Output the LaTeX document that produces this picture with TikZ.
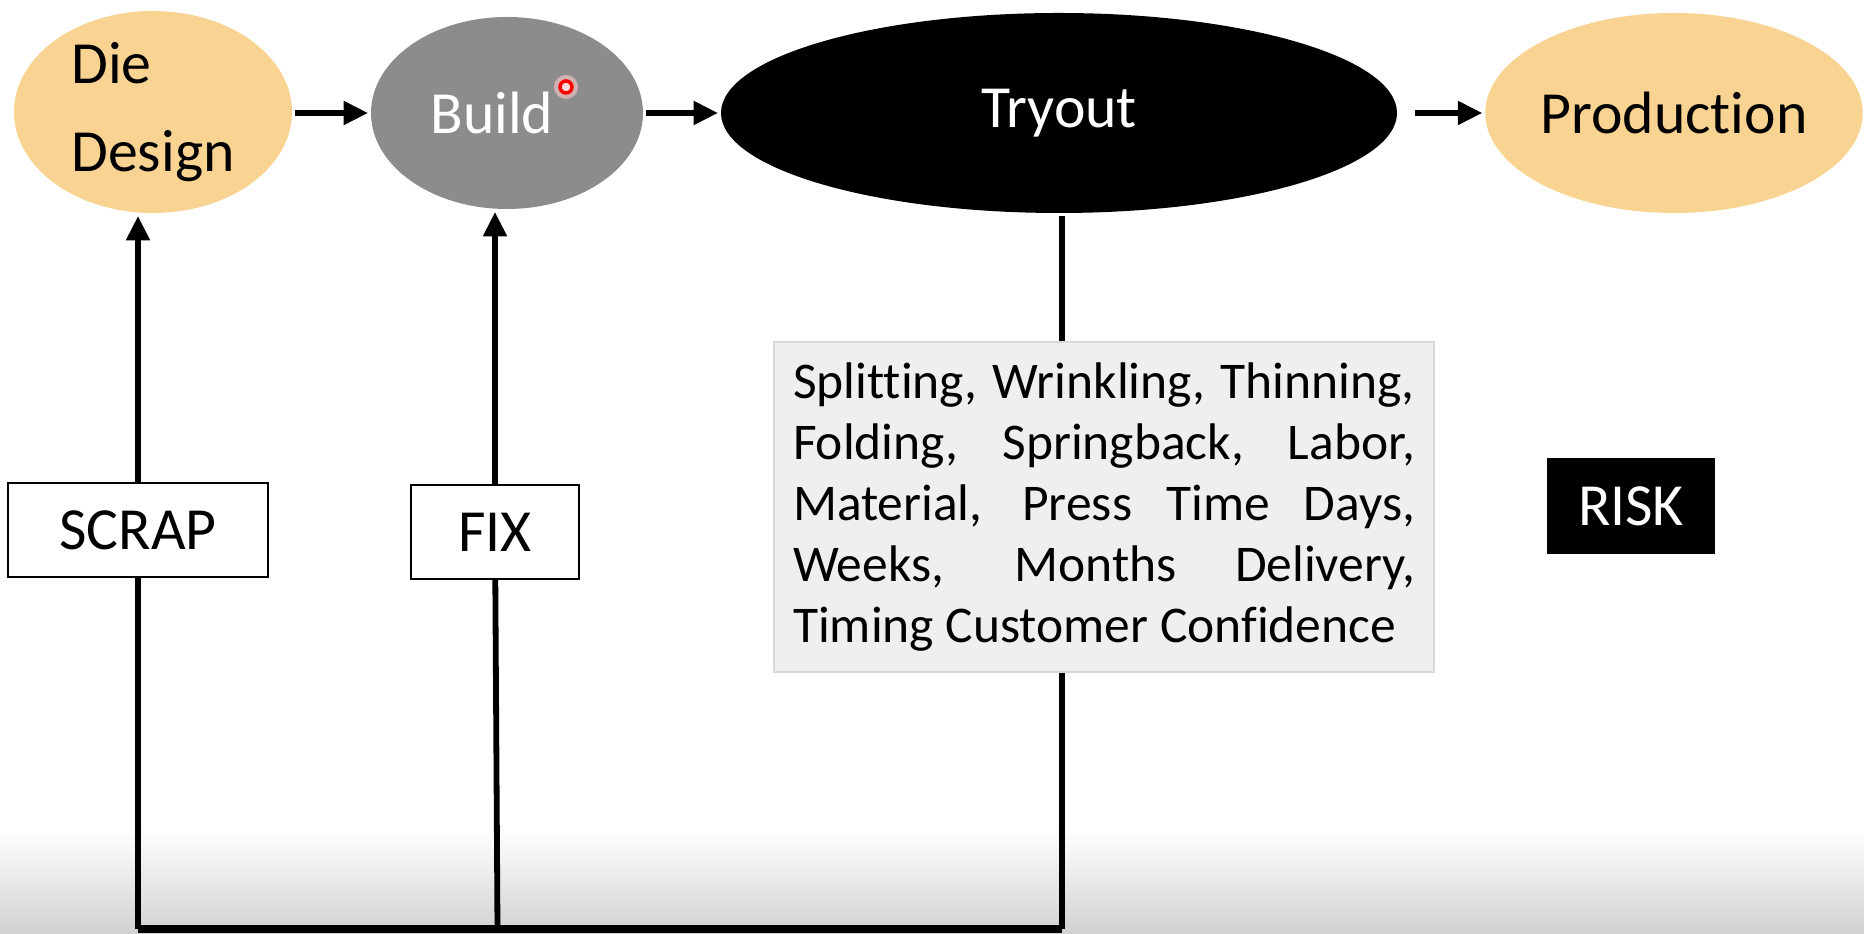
\documentclass[tikz,border=0pt]{standalone}
\usepackage{fontspec}
\setmainfont{Carlito}[Ligatures=NoCommon]
\usetikzlibrary{arrows.meta,shapes.geometric}
\definecolor{peach}{HTML}{F9D391}
\definecolor{stonegray}{HTML}{8C8C8C}
\definecolor{notegray}{HTML}{EFEFEF}
\begin{document}
\begin{tikzpicture}
[line width=3.3pt,%
  >={Triangle[length=14pt,width=13pt]},%
  big/.style={font=\fontsize{34}{50}\selectfont},%
  stage/.style={shape=ellipse,inner sep=0pt,big},%
  tag/.style={shape=rectangle,draw,line width=1pt,inner sep=0pt,minimum height=1.88cm,big}]
\useasboundingbox (0,0) rectangle (37.28,18.68);
\fill[white] (0,0) rectangle (37.28,18.68);
\shade[top color=white,bottom color=black!18] (0,0) rectangle (37.28,2.1);

% the four stages
\node[stage,fill=peach,minimum width=5.56cm,minimum height=4.04cm,align=left] (die) at (3.06,16.44) {Die\\Design};
\node[stage,fill=stonegray,text=white,minimum width=5.44cm,minimum height=3.84cm] (build) at (10.14,16.42) {Build\hspace*{0.6cm}};
\node[stage,fill=black,text=white,minimum width=13.52cm,minimum height=4.0cm] (tryout) at (21.18,16.42) {Tryout};
\node[stage,fill=peach,minimum width=7.52cm,minimum height=4.0cm] (prod) at (33.48,16.42) {Production};
\fill[red!20,opacity=0.6] (11.32,16.94) circle (0.24);
\draw[red,line width=2pt,fill=red!15] (11.32,16.94) circle (0.12);

\draw[->] (die.east |- build) -- (build);
\draw[->] (build) -- (tryout);
\draw[->,shorten <=0.3cm] (tryout) -- (prod);

% loop back from tryout
\node[tag,minimum width=5.2cm] (scrap) at (2.76,8.08) {SCRAP};
\node[tag,minimum width=3.36cm] (fix) at (9.9,8.04) {FIX};
\node[draw=black!15,line width=0.8pt,fill=notegray,text width=12.44cm,inner xsep=0.38cm,%
  minimum height=6.6cm,align=justify,font=\fontsize{29.3}{34.7}\selectfont] (risks) at (22.08,8.54)
  {Splitting, Wrinkling, Thinning,\linebreak Folding, Springback, Labor,\linebreak
   Material, Press Time Days,\linebreak Weeks, Months Delivery,\linebreak Timing Customer Confidence};
\node[tag,fill=black,text=white,minimum width=3.34cm,minimum height=1.9cm] (risk) at (32.62,8.56) {RISK};

\coordinate (sbase) at (2.76,0.1);
\coordinate (fbase) at (9.95,0.1);
\coordinate (tbase) at (21.24,0.1);
\draw (tryout.south -| tbase) -- (risks.north -| tbase);
\draw (risks.south -| tbase) -- (tbase);
\draw[line width=4.5pt] (tbase) -- (sbase);
\draw (sbase) -- (scrap);
\draw[->] (scrap) -- (scrap |- die.south);
\draw (fbase) -- (fix);
\draw[->] (fix) -- (fix |- build.south);
\end{tikzpicture}
\end{document}
